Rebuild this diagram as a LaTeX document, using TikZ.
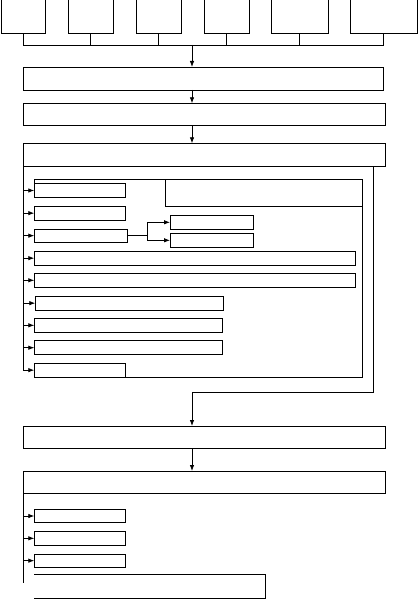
\documentclass[tikz,border=0pt]{standalone}
\usetikzlibrary{arrows.meta}
\begin{document}
\begin{tikzpicture}[x=1pt,y=-1pt, line width=0.8pt,
  box/.style={draw, inner sep=0pt, outer sep=0pt, anchor=north west},
  frame/.style={inner sep=0pt, outer sep=0pt, anchor=north west},
  arr/.style={-{Latex[length=6pt,width=4.5pt]}},
]
\useasboundingbox (0,0) rectangle (418,599);
% top boxes (no top edge)
\node[frame, minimum width=44.7pt, minimum height=35pt] (t1) at (1,-1.7) {};
\node[frame, minimum width=45pt, minimum height=35pt] (t2) at (68.3,-1.7) {};
\node[frame, minimum width=45pt, minimum height=35pt] (t3) at (136.3,-1.7) {};
\node[frame, minimum width=45.3pt, minimum height=35pt] (t4) at (204,-1.7) {};
\node[frame, minimum width=57pt, minimum height=35pt] (t5) at (271.3,-1.7) {};
\node[frame, minimum width=67pt, minimum height=35pt] (t6) at (350.3,-1.7) {};
\foreach \n in {t1,t2,t3,t4,t5,t6}{
  \draw (\n.north west) |- (\n.south east) -- (\n.north east);
}
\coordinate (busy) at (0,45);
\coordinate (col) at (192,0);
\foreach \n in {t1,t2,t3,t4,t5,t6}{
  \draw (\n.south) -- (\n.south |- busy);
}
\draw (t1.south |- busy) -- (t6.south |- busy);
% main column
\node[box, minimum width=360pt, minimum height=23pt] (A) at (23.3,67) {};
\node[box, minimum width=362.4pt, minimum height=22.4pt] (B) at (23.3,103.3) {};
\node[box, minimum width=362.4pt, minimum height=22.7pt] (C) at (23.3,143.3) {};
\draw[arr] (col |- busy) -- (col |- A.north);
\draw[arr] (col |- A.south) -- (col |- B.north);
\draw[arr] (col |- B.south) -- (col |- C.north);
% group outline and panel
\node[frame, minimum width=328pt, minimum height=197.7pt] (grp) at (34.3,179.3) {};
\node[frame, minimum width=197pt, minimum height=27pt] (pnl) at (165.3,179.3) {};
% sub boxes
\node[box, minimum width=90.7pt, minimum height=14.4pt] (s1) at (34.3,183.3) {};
\node[box, minimum width=90.7pt, minimum height=13.7pt] (s2) at (34.3,206.3) {};
\node[box, minimum width=93.4pt, minimum height=13.3pt] (s3) at (34.3,229) {};
\node[box, minimum width=83.3pt, minimum height=14pt] (r1) at (170,215.3) {};
\node[box, minimum width=83.3pt, minimum height=14pt] (r2) at (170,233.3) {};
\node[box, minimum width=321pt, minimum height=14.3pt] (s4) at (34.3,251) {};
\node[box, minimum width=321pt, minimum height=14pt] (s5) at (34.3,273.3) {};
\node[box, minimum width=188pt, minimum height=13.7pt] (s6) at (35.3,296.3) {};
\node[box, minimum width=188pt, minimum height=14pt] (s7) at (34.3,318.3) {};
\node[box, minimum width=188pt, minimum height=14pt] (s8) at (34.3,340.7) {};
\node[box, minimum width=90.7pt, minimum height=13.7pt] (s9) at (34.3,363.3) {};
\draw (s1.north west) -- (grp.north west) -- (grp.north east) -- (grp.south east) -- (s9.south east);
\draw (pnl.north west) |- (pnl.south east);
% left spine and arrows
\draw (C.south west) -- (C.south west |- s9.west);
\foreach \n in {s1,s2,s3,s4,s5,s6,s7,s8,s9}{
  \draw[arr] (C.south west |- \n.west) -- (\n.west);
}
% split from s3
\coordinate (sx) at (147.3,0);
\draw (s3.east) -- (sx |- s3.east);
\draw (sx |- r1.west) -- (sx |- r2.west);
\draw[arr] (sx |- r1.west) -- (r1.west);
\draw[arr] (sx |- r2.west) -- (r2.west);
% return line
\coordinate (ret) at (373.3,392.7);
\node[box, minimum width=362pt, minimum height=22.3pt] (D) at (23.3,426) {};
\node[box, minimum width=362pt, minimum height=22.3pt] (E) at (23.3,471) {};
\draw[arr] (C.south -| ret) -- (ret) -- (ret -| col) -- (col |- D.north);
\draw[arr] (col |- D.south) -- (col |- E.north);
% lower sub boxes
\node[box, minimum width=90.7pt, minimum height=13.4pt] (f1) at (34.3,509.3) {};
\node[box, minimum width=90.7pt, minimum height=14pt] (f2) at (34.3,531.3) {};
\node[box, minimum width=90.7pt, minimum height=13.3pt] (f3) at (34.3,554) {};
\node[frame, minimum width=231pt, minimum height=24.7pt] (last) at (34.3,574) {};
\draw (last.north west) -- (last.north east) -- (last.south east) -- (last.south west);
\coordinate (spe) at (23.3,583.3);
\draw (E.south west) -- (spe);
\foreach \n in {f1,f2,f3}{
  \draw[arr] (E.south west |- \n.west) -- (\n.west);
}
\end{tikzpicture}
\end{document}
